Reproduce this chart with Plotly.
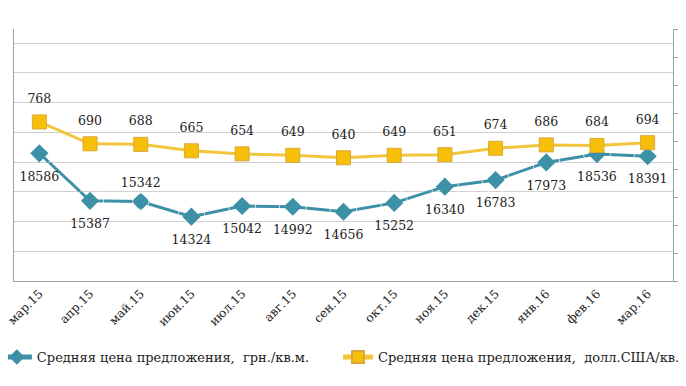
import plotly.graph_objects as go

categories = ["мар.15", "апр.15", "май.15", "июн.15", "июл.15", "авг.15", "сен.15",
              "окт.15", "ноя.15", "дек.15", "янв.16", "фев.16", "мар.16"]
uah_values = [18586, 15387, 15342, 14324, 15042, 14992, 14656, 15252, 16340, 16783, 17973, 18536, 18391]
usd_values = [768, 690, 688, 665, 654, 649, 640, 649, 651, 674, 686, 684, 694]
uah_label_pos = ["bottom center", "bottom center", "top center", "bottom center", "bottom center",
                 "bottom center", "bottom center", "bottom center", "bottom center", "bottom center",
                 "bottom center", "bottom center", "bottom center"]

name_uah = "Средняя цена предложения,  грн./кв.м."
name_usd = "Средняя цена предложения,  долл.США/кв.м."

BLUE = "#3D91A7"
YELLOW_LINE = "#F2C63C"
YELLOW_FILL = "#F7BE0A"
YELLOW_EDGE = "#D8A93A"
FONT = "DejaVu Serif"
TXT = "#222222"
LABEL_SIZE = 12.5

fig = go.Figure()
fig.add_trace(go.Scatter(
    x=categories, y=uah_values, name=name_uah, mode="lines+markers",
    line=dict(color=BLUE, width=3),
    marker=dict(symbol="diamond", size=14, color=BLUE),
    yaxis="y", cliponaxis=False, legend="legend",
))
fig.add_trace(go.Scatter(
    x=categories, y=usd_values, name=name_usd, mode="lines+markers",
    line=dict(color=YELLOW_LINE, width=3),
    marker=dict(symbol="square", size=14, color=YELLOW_FILL, line=dict(color=YELLOW_EDGE, width=1)),
    yaxis="y2", cliponaxis=False, legend="legend2",
))
# data labels (invisible markers set the label offset)
fig.add_trace(go.Scatter(
    x=categories, y=uah_values, mode="markers+text", showlegend=False, hoverinfo="skip",
    marker=dict(size=[16 if p.startswith("top") else 27 for p in uah_label_pos], color="rgba(0,0,0,0)"),
    text=[str(v) for v in uah_values], textposition=uah_label_pos,
    textfont=dict(family=FONT, size=LABEL_SIZE, color=TXT),
    yaxis="y", cliponaxis=False,
))
fig.add_trace(go.Scatter(
    x=categories, y=usd_values, mode="markers+text", showlegend=False, hoverinfo="skip",
    marker=dict(size=24, color="rgba(0,0,0,0)"),
    text=[str(v) for v in usd_values], textposition="top center",
    textfont=dict(family=FONT, size=LABEL_SIZE, color=TXT),
    yaxis="y2", cliponaxis=False,
))

legend_common = dict(font=dict(family=FONT, size=13, color=TXT),
                     itemwidth=30, itemsizing="constant", bgcolor="rgba(0,0,0,0)", yanchor="middle",
                     xanchor="left", orientation="h")

fig.update_layout(
    width=678, height=378,
    margin=dict(l=6, r=13, t=21, b=105, autoexpand=False),
    paper_bgcolor="white", plot_bgcolor="white",
    font=dict(family=FONT, size=13, color=TXT),
    showlegend=True,
    legend=dict(x=-0.026, y=-0.302, **legend_common),
    legend2=dict(x=0.4917, y=-0.302, **legend_common),
    xaxis=dict(type="category", range=[-0.5, 12.5], tickangle=-45, automargin=False,
               showline=True, linecolor="#A0A0A0", linewidth=1,
               showgrid=False, ticks="", tickfont=dict(family=FONT, size=12, color=TXT)),
    yaxis=dict(range=[10000, 26941], dtick=2000, tick0=10000, showgrid=True, automargin=False,
               gridcolor="#D0D0D0", gridwidth=1, showline=True, linecolor="#A0A0A0",
               showticklabels=False, ticks="", zeroline=False),
    yaxis2=dict(range=[200, 1100], dtick=100, overlaying="y", side="right", automargin=False,
                showgrid=False, showline=True, linecolor="#A0A0A0",
                ticks="outside", ticklen=5, tickcolor="#A0A0A0",
                showticklabels=False, zeroline=False),
)

fig.write_html("out.html")
